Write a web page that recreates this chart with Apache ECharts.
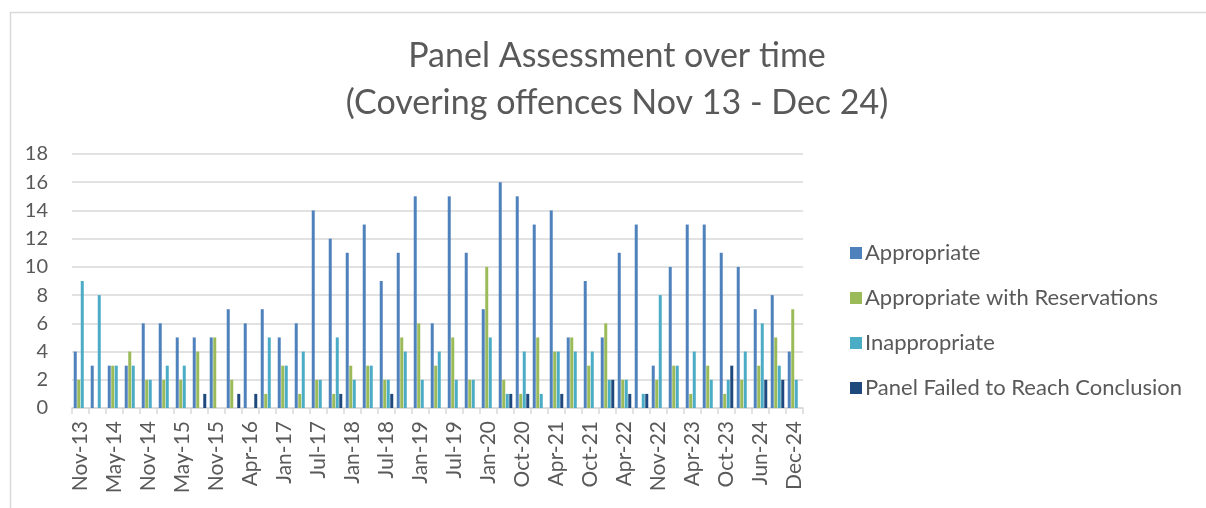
<!DOCTYPE html>
<html>
<head>
<meta charset="utf-8">
<script src="https://cdn.jsdelivr.net/npm/echarts@6/dist/echarts.min.js"></script>
<style>html,body{margin:0;padding:0;background:#fff;}#chart{width:1206px;height:508px;}</style>
</head>
<body>
<div id="chart"></div>
<script>
const categories = ['Nov-13','Feb-14','May-14','Aug-14','Nov-14','Feb-15','May-15','Aug-15','Nov-15','Jan-16',
  'Apr-16','Jul-16','Jan-17','Apr-17','Jul-17','Oct-17','Jan-18','Apr-18','Jul-18','Oct-18',
  'Jan-19','Apr-19','Jul-19','Oct-19','Jan-20','Jul-20','Oct-20','Jan-21','Apr-21','Jul-21',
  'Oct-21','Jan-22','Apr-22','Jul-22','Nov-22','Jan-23','Apr-23','Jul-23','Oct-23','Feb-24',
  'Jun-24','Sep-24','Dec-24'];
const appropriate = [4,3,3,3,6,6,5,5,5,7,6,7,5,6,14,12,11,13,9,11,15,6,15,11,7,16,15,13,14,5,9,5,11,13,3,10,13,13,11,10,7,8,4];
const appropriateWithReservations = [2,0,3,4,2,2,2,4,5,2,0,1,3,1,2,1,3,3,2,5,6,3,5,2,10,2,1,5,4,5,3,6,2,0,2,3,1,3,1,2,3,5,7];
const inappropriate = [9,8,3,3,2,3,3,0,0,0,0,5,3,4,2,5,2,3,2,4,2,4,2,2,5,1,4,1,4,4,4,2,2,1,8,3,4,2,2,4,6,3,2];
const failedToConclude = [0,0,0,0,0,0,0,1,0,1,1,0,0,0,0,1,0,0,1,0,0,0,0,0,0,1,1,0,1,0,0,2,1,1,0,0,0,0,3,0,2,2,0];
const seriesNames = ['Appropriate','Appropriate with Reservations','Inappropriate','Panel Failed to Reach Conclusion'];
const seriesColors = ['#4F81BD','#9BBB59','#4BACC6','#1F497D'];
const yTicks = {min: 0, max: 18, interval: 2};

const font = 'Lato, "Open Sans", sans-serif';
const chart = echarts.init(document.getElementById('chart'), null, {renderer: 'canvas'});
const dataSets = [appropriate, appropriateWithReservations, inappropriate, failedToConclude];
chart.setOption({
  animation: false,
  backgroundColor: '#ffffff',
  graphic: [{
    type: 'rect', left: 8, top: 10,
    shape: {width: 1400, height: 800},
    style: {fill: 'none', stroke: '#d9d9d9', lineWidth: 1.5},
    silent: true, z: -1
  }],
  title: {
    text: 'Panel Assessment over time\n(Covering offences Nov 13 - Dec 24)',
    left: 612, textAlign: 'center', top: 28,
    textStyle: {fontFamily: font, fontSize: 34, fontWeight: 'normal', color: '#595959', lineHeight: 47}
  },
  legend: {
    orient: 'vertical', left: 845, top: 237,
    itemWidth: 12, itemHeight: 12, itemGap: 23, icon: 'rect',
    textStyle: {fontFamily: font, fontSize: 22, color: '#595959', padding: [0,0,0,-2]},
    data: seriesNames
  },
  grid: {left: 72, right: 403, top: 154, bottom: 100, containLabel: false},
  xAxis: {
    type: 'category', data: categories, boundaryGap: true,
    axisLine: {lineStyle: {color: '#d9d9d9', width: 1.5}},
    axisTick: {show: true, interval: 0, length: 6, lineStyle: {color: '#d9d9d9', width: 1.5}},
    axisLabel: {interval: 1, rotate: 90, margin: 13, fontFamily: font, fontSize: 21, color: '#595959'},
    splitLine: {show: false}
  },
  yAxis: {
    type: 'value', min: yTicks.min, max: yTicks.max, interval: yTicks.interval,
    axisLine: {show: false}, axisTick: {show: false},
    axisLabel: {margin: 24, fontFamily: font, fontSize: 20, color: '#595959'},
    splitLine: {lineStyle: {color: '#d9d9d9', width: 1.5}}
  },
  series: seriesNames.map((name, i) => ({
    name: name, type: 'bar', data: dataSets[i],
    barWidth: 3, barGap: '17%',
    itemStyle: {color: seriesColors[i]}
  }))
});
</script>
</body>
</html>
